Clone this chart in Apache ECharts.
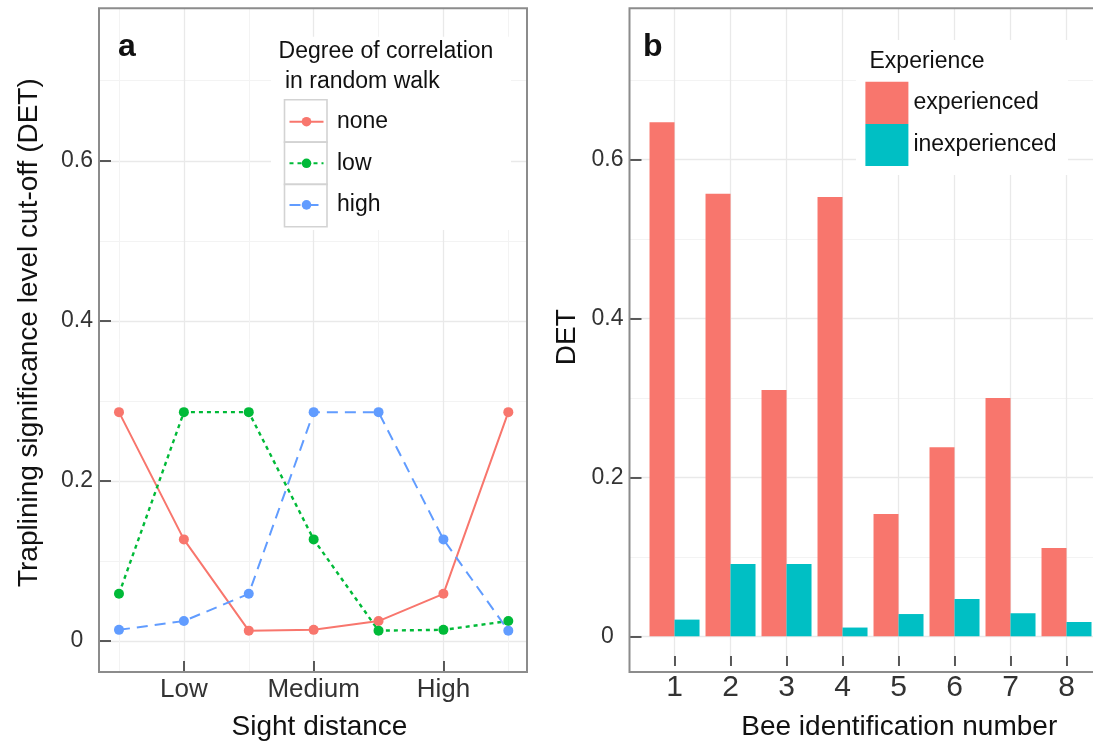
<!DOCTYPE html>
<html><head><meta charset="utf-8">
<script src="https://cdn.jsdelivr.net/npm/echarts@6/dist/echarts.min.js"></script>
<style>html,body{margin:0;padding:0;background:#fff}#c{width:1093px;height:746px}</style>
</head><body><div id="c"></div>
<script>
// ---- data ----
const sightPositions = [1, 2, 3, 4, 5, 6, 7];
const sightTickValues = [2, 4, 6];
const sightTickLabels = ['Low', 'Medium', 'High'];
const corrNames = ['none', 'low', 'high'];
const noneValues = [0.286, 0.127, 0.013, 0.014, 0.025, 0.059, 0.286];
const lowValues  = [0.059, 0.286, 0.286, 0.127, 0.013, 0.014, 0.025];
const highValues = [0.014, 0.025, 0.059, 0.286, 0.286, 0.127, 0.013];

const beeIds = [1, 2, 3, 4, 5, 6, 7, 8];
const expNames = ['experienced', 'inexperienced'];
const experiencedValues   = [0.647, 0.557, 0.310, 0.553, 0.154, 0.238, 0.300, 0.111];
const inexperiencedValues = [0.021, 0.091, 0.091, 0.011, 0.028, 0.047, 0.029, 0.018];

const detTicks = [0, 0.2, 0.4, 0.6];
const detMinor = [0.1, 0.3, 0.5, 0.7];
const sightMinor = [1, 3, 5, 7];

// ---- helpers ----
const pairs = (xs, ys) => xs.map((x, i) => [x, ys[i]]);
const FONT = "'Liberation Sans', Arial, Helvetica, sans-serif";
const MAJ = '#e9e9e9', MIN = '#f3f3f3';
const hLines = (vals, c, w) => vals.map(v => ({ yAxis: v, lineStyle: { color: c, width: w, type: 'solid' } }));
const vLines = (vals, c, w) => vals.map(v => ({ xAxis: v, lineStyle: { color: c, width: w, type: 'solid' } }));
const gridSeries = (idx, data) => ({
  type: 'line', xAxisIndex: idx, yAxisIndex: idx, data: [], z: 1, silent: true,
  markLine: { z: 1, silent: true, symbol: ['none', 'none'], label: { show: false }, animation: false, data: data }
});

const yMin = -0.0374, yMax = 0.7905;

function yAxisCfg(idx, name, gap, pad) {
  return {
    type: 'value', gridIndex: idx, min: yMin, max: yMax, z: 5,
    name: name, nameLocation: 'middle', nameGap: gap,
    nameTextStyle: { fontSize: 28, color: '#111', fontFamily: FONT, lineHeight: 28, padding: pad },
    axisLine: { show: false, onZero: false },
    axisTick: { show: true, inside: true, length: 12, customValues: detTicks, lineStyle: { color: '#333', width: 1.6 } },
    axisLabel: { customValues: detTicks, fontSize: 23, color: '#333', margin: 22, align: 'center', fontFamily: FONT },
    splitLine: { show: false }
  };
}

const option = {
  animation: false,
  textStyle: { fontFamily: FONT },
  grid: [
    { left: 99, top: 8.3, width: 428, height: 663.7, show: false },
    { left: 629.5, top: 8.3, width: 463.5, height: 663.7, show: false }
  ],
  xAxis: [
    {
      type: 'value', gridIndex: 0, min: 0.692, max: 7.288, z: 5,
      name: 'Sight distance', nameLocation: 'middle', nameGap: 42,
      nameTextStyle: { fontSize: 28, color: '#111', fontFamily: FONT, lineHeight: 28, padding: [0, 0, 0, 13] },
      axisLine: { show: false, onZero: false },
      axisTick: { show: true, inside: true, length: 10, customValues: sightTickValues, lineStyle: { color: '#333', width: 1.6 } },
      axisLabel: { customValues: sightTickValues, fontSize: 26, color: '#333', margin: 6, fontFamily: FONT,
        formatter: v => sightTickLabels[sightTickValues.indexOf(v)] },
      splitLine: { show: false }
    },
    {
      type: 'value', gridIndex: 1, min: 0.196, max: 8.473, z: 5,
      name: 'Bee identification number', nameLocation: 'middle', nameGap: 47,
      nameTextStyle: { fontSize: 28, color: '#111', fontFamily: FONT, lineHeight: 28, padding: [0, 0, 0, 76] },
      axisLine: { show: false, onZero: false },
      axisTick: { show: true, inside: true, length: 10, customValues: beeIds, lineStyle: { color: '#333', width: 1.6 } },
      axisLabel: { customValues: beeIds, fontSize: 30, color: '#333', margin: 7, fontFamily: FONT },
      splitLine: { show: false }
    }
  ],
  yAxis: [
    yAxisCfg(0, 'Traplining significance level cut-off (DET)', 56, [0, 0, 0, 14]),
    yAxisCfg(1, 'DET', 48, 0)
  ],
  title: [
    { text: 'a', left: 118, top: 31, padding: 0, textStyle: { fontSize: 32, fontWeight: 'bold', color: '#111', lineHeight: 32, fontFamily: FONT } },
    { text: 'b', left: 643, top: 31, padding: 0, textStyle: { fontSize: 32, fontWeight: 'bold', color: '#111', lineHeight: 32, fontFamily: FONT } },
    { text: 'Degree of correlation\n in random walk', left: 278.6, top: 36.7, padding: 0, z: 6,
      textStyle: { fontSize: 23, fontWeight: 'normal', color: '#111', lineHeight: 30, fontFamily: FONT } },
    { text: 'Experience', left: 869.5, top: 48.2, padding: 0, z: 6,
      textStyle: { fontSize: 23, fontWeight: 'normal', color: '#111', lineHeight: 27, fontFamily: FONT } }
  ],
  legend: [
    {
      data: corrNames, orient: 'vertical', left: 288.5, top: 110.2, padding: 0,
      itemWidth: 34, itemHeight: 12, itemGap: 18.6, selectedMode: false, z: 6,
      textStyle: { fontSize: 23, color: '#111', lineHeight: 23, padding: [0, 0, 0, 8.5], fontFamily: FONT }
    },
    {
      data: expNames, orient: 'vertical', left: 865.4, top: 81.7, padding: 0,
      itemWidth: 43, itemHeight: 42.2, itemGap: 0, icon: 'rect', selectedMode: false, z: 6,
      textStyle: { fontSize: 23, color: '#111', lineHeight: 23, fontFamily: FONT }
    }
  ],
  graphic: [
    { type: 'rect', z: 3, shape: { x: 271, y: 36.7, width: 240, height: 193.3 }, style: { fill: '#fff' }, silent: true },
    { type: 'rect', z: 3, shape: { x: 856, y: 40, width: 212, height: 135 }, style: { fill: '#fff' }, silent: true },
    { type: 'rect', z: 4, shape: { x: 284.5, y: 99.8, width: 42.5, height: 42.3 }, style: { fill: '#fff', stroke: '#d3d3d3', lineWidth: 1.6 }, silent: true },
    { type: 'rect', z: 4, shape: { x: 284.5, y: 142.1, width: 42.5, height: 42.3 }, style: { fill: '#fff', stroke: '#d3d3d3', lineWidth: 1.6 }, silent: true },
    { type: 'rect', z: 4, shape: { x: 284.5, y: 184.4, width: 42.5, height: 42.3 }, style: { fill: '#fff', stroke: '#d3d3d3', lineWidth: 1.6 }, silent: true },
    { type: 'rect', z: 10, shape: { x: 99, y: 8.3, width: 428, height: 663.7 }, style: { fill: 'none', stroke: '#8c8c8c', lineWidth: 2 }, silent: true },
    { type: 'rect', z: 10, shape: { x: 629.5, y: 8.3, width: 600, height: 663.7 }, style: { fill: 'none', stroke: '#8c8c8c', lineWidth: 2 }, silent: true }
  ],
  series: [
    gridSeries(0, [].concat(hLines(detTicks, MAJ, 1.3), hLines(detMinor, MIN, 1), vLines(sightTickValues, MAJ, 1.3), vLines(sightMinor, MIN, 1))),
    gridSeries(1, [].concat(hLines(detTicks, MAJ, 1.3), hLines(detMinor, MIN, 1), vLines(beeIds, MAJ, 1.3))),
    {
      name: 'none', type: 'line', xAxisIndex: 0, yAxisIndex: 0, z: 3, data: pairs(sightPositions, noneValues),
      symbol: 'circle', symbolSize: 10, color: '#F8766D',
      itemStyle: { color: '#F8766D' }, lineStyle: { color: '#F8766D', width: 2, type: 'solid' }
    },
    {
      name: 'low', type: 'line', xAxisIndex: 0, yAxisIndex: 0, z: 3, data: pairs(sightPositions, lowValues),
      symbol: 'circle', symbolSize: 10, color: '#00BA38',
      itemStyle: { color: '#00BA38' }, lineStyle: { color: '#00BA38', width: 2.4, type: [4, 4] }
    },
    {
      name: 'high', type: 'line', xAxisIndex: 0, yAxisIndex: 0, z: 3, data: pairs(sightPositions, highValues),
      symbol: 'circle', symbolSize: 10, color: '#619CFF',
      itemStyle: { color: '#619CFF' }, lineStyle: { color: '#619CFF', width: 2, type: [11, 7] }
    },
    {
      name: 'experienced', type: 'bar', xAxisIndex: 1, yAxisIndex: 1, z: 2, data: pairs(beeIds, experiencedValues),
      barWidth: 25, barGap: '0%', itemStyle: { color: '#F8766D' }
    },
    {
      name: 'inexperienced', type: 'bar', xAxisIndex: 1, yAxisIndex: 1, z: 2, data: pairs(beeIds, inexperiencedValues),
      barWidth: 25, barGap: '0%', itemStyle: { color: '#00BFC4' }
    }
  ]
};

const chart = echarts.init(document.getElementById('c'), null, { renderer: 'canvas' });
chart.setOption(option);
</script>
</body></html>
